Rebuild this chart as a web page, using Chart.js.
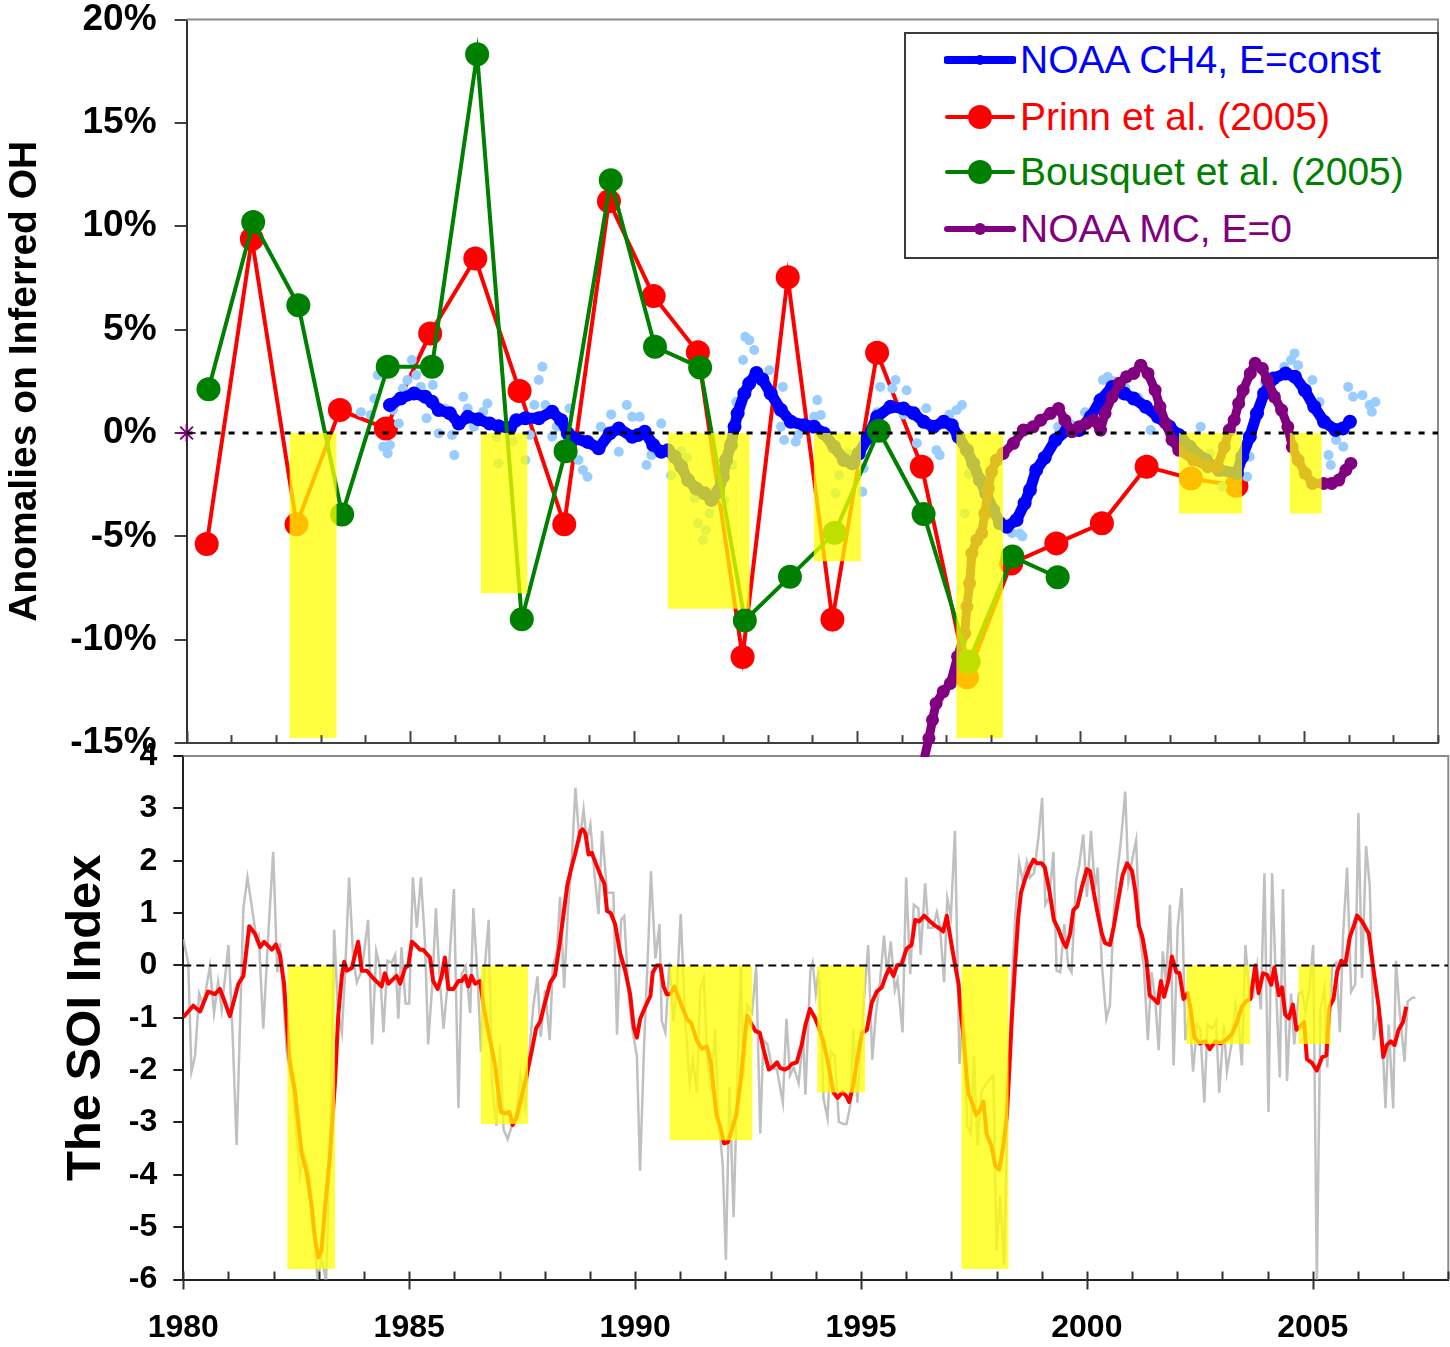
<!DOCTYPE html>
<html>
<head>
<meta charset="utf-8">
<title>Inferred OH anomalies and the SOI index</title>
<script src="https://cdn.jsdelivr.net/npm/chart.js@4/dist/chart.umd.min.js"></script>
<style>
  html, body { margin: 0; padding: 0; background: #fff; }
  #wrap { position: relative; width: 1450px; height: 1347px; overflow: hidden; background: #fff; }
  canvas { position: absolute; left: 0; }
  #oh { top: -17.2px; }
  #soi { top: 723.5px; }
  #legend {
    position: absolute; left: 904px; top: 32px; width: 531px; height: 223px;
    border: 2px solid #3a3a3a; background: #fff;
    font-family: 'Liberation Sans', Arial, sans-serif; font-size: 39px;
  }
  #legend .item { position: absolute; left: 0; height: 40px; display: flex; align-items: center; white-space: nowrap; }
  #legend svg { margin-left: 38px; margin-right: 4px; }
</style>
</head>
<body>
<div id="wrap">
  <canvas id="soi" width="1450" height="624"></canvas>
  <canvas id="oh" width="1450" height="820"></canvas>
  <div id="legend"></div>
</div>
<script>
// ---------------- OH anomaly estimates (percent) ----------------
const prinnYears = [1980.45, 1981.46, 1982.46, 1983.43, 1984.46, 1985.45, 1986.46, 1987.45, 1988.45, 1989.45, 1990.45, 1991.44,
  1992.44, 1993.45, 1994.45, 1995.45, 1996.45, 1997.46, 1998.45, 1999.46, 2000.48, 2001.48, 2002.47, 2003.49];
const prinnOH = [-5.37, 9.38, -4.42, 1.11, 0.22, 4.81, 8.44, 2.03, -4.42, 11.21, 6.62, 3.9,
  -10.84, 7.53, -9.02, 3.88, -1.63, -11.82, -6.31, -5.34, -4.37, -1.63, -2.2, -2.55];

const bousquetYears = [1980.49, 1981.49, 1982.5, 1983.48, 1984.5, 1985.49, 1986.5, 1987.5, 1988.48, 1989.49, 1990.48,
  1991.49, 1992.49, 1993.5, 1994.5, 1995.49, 1996.49, 1997.5, 1998.48, 1999.49];
const bousquetOH = [2.12, 10.21, 6.18, -3.94, 3.2, 3.2, 18.32, -9.01, -0.88, 12.23, 4.17,
  3.17, -9.07, -6.95, -4.83, 0.11, -3.92, -11.06, -5.98, -6.98];

// NOAA CH4, E=const : smoothed curve
const ch4Years = [1984.55, 1984.79, 1985.09, 1985.34, 1985.49, 1985.64, 1985.89, 1986.09, 1986.29, 1986.53, 1986.78, 1986.98,
  1987.23, 1987.38, 1987.58, 1987.88, 1988.18, 1988.38, 1988.53, 1988.67, 1988.97, 1989.22, 1989.47, 1989.67, 1989.97,
  1990.1, 1990.25, 1990.44, 1990.62, 1990.77, 1990.92, 1991.07, 1991.22, 1991.4, 1991.59, 1991.74, 1991.89, 1992.0,
  1992.07, 1992.18, 1992.26, 1992.33, 1992.48, 1992.59, 1992.75, 1992.88, 1993.07, 1993.3, 1993.52, 1993.82, 1994.04,
  1994.26, 1994.49, 1994.71, 1994.89, 1995.04, 1995.23, 1995.45, 1995.75, 1996.04, 1996.27, 1996.49, 1996.71, 1996.94,
  1997.12, 1997.27, 1997.46, 1997.6, 1997.75, 1997.89, 1998.05, 1998.2, 1998.35, 1998.57, 1998.75, 1998.87, 1999.01,
  1999.2, 1999.44, 1999.7, 1999.97, 2000.23, 2000.45, 2000.71, 2000.98, 2001.19, 2001.46, 2001.73, 2001.99, 2002.2,
  2002.45, 2002.8, 2003.1, 2003.5, 2003.62, 2003.79, 2003.95, 2004.11, 2004.32, 2004.59, 2004.8, 2005.02, 2005.23,
  2005.45, 2005.71, 2005.87, 2006.03];
const ch4OH = [1.35, 1.67, 1.91, 1.75, 1.51, 1.11, 0.95, 0.46, 0.78, 0.66, 0.46, 0.33,
  0.22, 0.62, 0.71, 0.71, 1.03, 0.62, -0.02, -0.26, -0.43, -0.74, -0.02, 0.22, -0.18,
  -0.1, 0.06, -0.58, -0.91, -0.83, -1.15, -1.63, -2.28, -2.68, -2.92, -3.24, -2.84, -2.12,
  -1.31, -0.58, 0.3, 0.95, 1.91, 2.4, 2.9, 2.6, 1.91, 1.11, 0.54, 0.38, 0.3,
  -0.02, -0.67, -1.31, -1.47, -0.99, -0.26, 0.78, 1.27, 1.19, 0.95, 0.54, 0.3, 0.54,
  0.38, -0.18, -0.83, -1.47, -2.28, -2.92, -3.73, -4.37, -4.54, -4.21, -3.4, -2.76, -1.79,
  -1.2, -0.34, 0.14, 0.14, 0.78, 1.59, 2.23, 1.91, 1.67, 1.27, 0.78, 0.3, -0.1,
  -0.67, -1.31, -1.79, -1.95, -1.15, -0.18, 0.95, 1.91, 2.64, 2.88, 2.72, 2.07, 1.27,
  0.54, 0.14, 0.22, 0.54];

// NOAA CH4 : individual monthly estimates
const ch4MonthlyYears = [1983.9, 1984.12, 1984.2, 1984.28, 1984.4, 1984.5, 1984.55, 1984.62, 1984.75, 1984.84, 1984.94,
  1985.04, 1985.14, 1985.24, 1985.37, 1985.51, 1985.64, 1985.77, 1985.94, 1985.99, 1986.19, 1986.29, 1986.43, 1986.64,
  1986.73, 1986.93, 1986.98, 1987.3, 1987.58, 1987.68, 1987.78, 1987.88, 1987.96, 1988.03, 1988.18, 1988.28, 1988.57,
  1988.77, 1988.87, 1988.97, 1989.27, 1989.5, 1989.67, 1989.85, 1989.97, 1990.14, 1990.29, 1990.4, 1990.62, 1990.84,
  1991.06, 1991.2, 1991.37, 1991.44, 1991.55, 1991.62, 1991.7, 1992.03, 1992.21, 1992.3, 1992.45, 1992.5, 1992.59,
  1992.7, 1993.04, 1993.3, 1993.34, 1993.37, 1993.63, 1993.68, 1994.04, 1994.11, 1994.19, 1994.52, 1994.6, 1994.8,
  1995.12, 1995.15, 1995.45, 1995.52, 1995.79, 1995.86, 1996.04, 1996.11, 1996.34, 1996.55, 1996.78, 1996.85, 1997.07,
  1997.23, 1997.35, 1997.41, 1997.5, 1997.9, 1998.47, 1998.64, 1998.7, 1999.2, 1999.5, 1999.8, 2000.1, 2000.5,
  2000.61, 2000.75, 2001.0, 2001.3, 2001.57, 2001.8, 2002.0, 2002.3, 2002.69, 2002.9, 2003.17, 2003.3, 2003.73,
  2003.79, 2004.13, 2004.3, 2004.56, 2004.71, 2004.79, 2004.87, 2005.19, 2005.35, 2005.55, 2005.6, 2005.72, 2005.88,
  2005.99, 2006.1, 2006.31, 2006.47, 2006.52, 2006.6];
const ch4MonthlyOH = [1.0, 0.87, 1.67, 2.8, -0.67, -0.99, -0.58, 1.11, 0.46, 2.15, 2.56,
  3.53, 2.8, 2.23, 0.71, 2.32, -0.02, 1.19, -0.1, -1.07, 1.75, 1.19, 0.3, 1.03,
  1.43, -0.18, -1.47, -0.4, -1.31, -0.1, 1.35, 2.56, 3.2, 1.35, -0.18, 0.3, 1.19,
  -1.31, -1.79, -2.12, 0.3, 0.9, -0.91, 1.35, 0.78, 0.78, -1.55, -1.07, 0.46, -2.04,
  -0.9, -1.2, -3.16, -4.37, -5.18, -4.7, -3.89, -3.24, -1.55, 1.5, 3.53, 4.65, 4.49,
  4.01, 3.04, 0.3, 2.23, -0.34, -0.42, -0.1, 0.78, 1.59, 0.87, -2.92, -2.04, -1.0,
  -2.84, -1.71, 1.0, 2.23, 2.15, 2.56, 0.9, 2.07, -0.5, 1.2, -0.83, -1.07, 0.9,
  1.11, 1.35, -3.89, -2.0, -4.0, -4.85, -4.86, -5.0, -1.2, 0.3, 0.4, 1.0, 2.56,
  2.72, 2.5, 2.2, 1.7, 0.14, 0.8, 0.2, -0.5, 0.3, -1.0, -2.6, -1.9, -2.12,
  -1.15, 2.4, 2.0, 3.2, 3.53, 3.85, 3.28, 2.56, 1.5, -1.07, -1.55, -0.34, -0.67,
  2.23, 1.75, 1.83, 1.35, 1.03, 1.5];

// NOAA MC, E=0
const mcYears = [1996.52, 1996.61, 1996.69, 1996.77, 1996.93, 1997.09, 1997.25, 1997.41, 1997.46, 1997.52, 1997.57,
  1997.68, 1997.79, 1997.86, 1997.94, 1998.01, 1998.12, 1998.27, 1998.5, 1998.72, 1998.94, 1999.11, 1999.33, 1999.51,
  1999.65, 1999.81, 1999.97, 2000.13, 2000.29, 2000.45, 2000.55, 2000.71, 2000.87, 2001.03, 2001.19, 2001.35, 2001.51,
  2001.67, 2001.78, 2001.91, 2002.05, 2002.2, 2002.53, 2002.85, 2003.06, 2003.22, 2003.33, 2003.44, 2003.54, 2003.64,
  2003.8, 2003.91, 2004.07, 2004.18, 2004.34, 2004.5, 2004.64, 2004.74, 2004.87, 2005.03, 2005.19, 2005.44, 2005.62,
  2005.78, 2005.94, 2006.05];
const mcOH = [-15.6, -14.77, -13.88, -13.08, -12.51, -12.11, -10.82, -9.69, -8.4, -7.27, -5.82,
  -5.18, -4.85, -3.89, -2.68, -1.88, -1.31, -0.99, -0.5, 0.14, 0.3, 0.62, 0.95, 1.19,
  0.62, 0.06, 0.3, 0.46, 0.62, 0.14, 0.95, 1.75, 2.4, 2.72, 2.88, 3.28, 2.88,
  2.07, 1.27, 0.46, -0.34, -0.83, -1.31, -1.63, -1.63, -0.67, 0.14, 0.62, 1.43, 2.07,
  2.88, 3.37, 3.12, 2.56, 1.75, 1.11, 0.3, -0.67, -1.31, -1.95, -2.44, -2.44, -2.44,
  -2.28, -1.79, -1.47];
const mcStartYear = [1980];
const mcStartOH = [0];

// ---------------- El Niño periods ----------------
const ensoStart = [1982.3, 1986.58, 1990.76, 1994.03, 1997.22, 2002.2, 2004.68];
const ensoEnd   = [1983.36, 1987.63, 1992.6, 1995.09, 1998.27, 2003.62, 2005.4];
const ohBarDepth  = [-14.75, -7.75, -8.5, -6.2, -14.75, -3.9, -3.9];
const soiBarDepth = [-5.8, -3.03, -3.34, -2.43, -5.8, -1.5, -1.5];

// ---------------- Southern Oscillation Index ----------------
const soiYears = [1980.00, 1980.11, 1980.18, 1980.26, 1980.35, 1980.44, 1980.59, 1980.68, 1980.77, 1980.85, 1981.00, 1981.09,
  1981.18, 1981.25, 1981.33, 1981.42, 1981.51, 1981.62, 1981.67, 1981.77, 1981.88, 1981.99, 1982.08, 1982.14, 1982.29,
  1982.43, 1982.58, 1982.67, 1982.77, 1982.88, 1982.97, 1983.06, 1983.16, 1983.25, 1983.34, 1983.42, 1983.51, 1983.58,
  1983.67, 1983.76, 1983.84, 1983.95, 1984.09, 1984.18, 1984.27, 1984.35, 1984.43, 1984.52, 1984.61, 1984.69, 1984.76,
  1984.83, 1984.92, 1985.00, 1985.08, 1985.17, 1985.26, 1985.35, 1985.42, 1985.52, 1985.59, 1985.67, 1985.76, 1985.87,
  1985.99, 1986.09, 1986.16, 1986.25, 1986.35, 1986.42, 1986.51, 1986.59, 1986.66, 1986.76, 1986.83, 1986.93, 1987.01,
  1987.09, 1987.18, 1987.27, 1987.37, 1987.46, 1987.57, 1987.68, 1987.75, 1987.84, 1987.91, 1988.01, 1988.11, 1988.18,
  1988.27, 1988.34, 1988.43, 1988.51, 1988.60, 1988.68, 1988.77, 1988.86, 1988.93, 1989.01, 1989.10, 1989.19, 1989.27,
  1989.38, 1989.52, 1989.60, 1989.69, 1989.76, 1989.86, 1989.95, 1990.04, 1990.11, 1990.20, 1990.30, 1990.35, 1990.45,
  1990.54, 1990.59, 1990.67, 1990.76, 1990.85, 1990.93, 1991.01, 1991.11, 1991.21, 1991.28, 1991.37, 1991.44, 1991.52,
  1991.60, 1991.68, 1991.77, 1991.85, 1991.94, 1992.01, 1992.09, 1992.18, 1992.25, 1992.34, 1992.40, 1992.48, 1992.59,
  1992.68, 1992.77, 1992.84, 1992.93, 1993.03, 1993.14, 1993.27, 1993.35, 1993.43, 1993.51, 1993.62, 1993.72, 1993.77,
  1993.88, 1993.93, 1994.00, 1994.06, 1994.13, 1994.17, 1994.26, 1994.33, 1994.42, 1994.51, 1994.61, 1994.68, 1994.76,
  1994.83, 1994.92, 1994.99, 1995.07, 1995.16, 1995.25, 1995.33, 1995.42, 1995.51, 1995.58, 1995.66, 1995.75, 1995.81,
  1995.92, 1996.00, 1996.09, 1996.17, 1996.27, 1996.32, 1996.42, 1996.49, 1996.59, 1996.68, 1996.75, 1996.84, 1996.91,
  1996.99, 1997.08, 1997.18, 1997.27, 1997.35, 1997.43, 1997.50, 1997.58, 1997.67, 1997.78, 1997.86, 1997.93, 1998.00,
  1998.08, 1998.17, 1998.24, 1998.34, 1998.41, 1998.50, 1998.58, 1998.67, 1998.74, 1998.83, 1998.93, 1999.01, 1999.08,
  1999.17, 1999.26, 1999.33, 1999.41, 1999.50, 1999.59, 1999.66, 1999.76, 1999.83, 1999.92, 2000.00, 2000.09, 2000.18,
  2000.24, 2000.33, 2000.43, 2000.51, 2000.59, 2000.66, 2000.75, 2000.85, 2000.92, 2001.01, 2001.09, 2001.17, 2001.26,
  2001.35, 2001.43, 2001.51, 2001.59, 2001.68, 2001.75, 2001.84, 2001.92, 2002.01, 2002.10, 2002.18, 2002.27, 2002.35,
  2002.44, 2002.51, 2002.60, 2002.67, 2002.77, 2002.86, 2002.93, 2003.03, 2003.10, 2003.20, 2003.29, 2003.36, 2003.43,
  2003.51, 2003.60, 2003.68, 2003.77, 2003.85, 2003.93, 2004.02, 2004.10, 2004.19, 2004.27, 2004.34, 2004.43, 2004.52,
  2004.59, 2004.69, 2004.76, 2004.84, 2004.92, 2005.01, 2005.09, 2005.17, 2005.26, 2005.32, 2005.43, 2005.52, 2005.60,
  2005.67, 2005.76, 2005.85, 2005.94, 2006.01, 2006.09, 2006.18, 2006.26, 2006.35, 2006.44, 2006.52, 2006.61, 2006.68,
  2006.78, 2006.84, 2006.92, 2007.03, 2007.10, 2007.20, 2007.27];
const soiMonthly = [0.50, 0.05, -2.03, -1.73, -0.54, -0.76, -0.02, -0.91, -0.32, -0.84, 0.39, -1.28,
  -3.43, -1.28, 1.09, 1.68, 1.16, 0.50, 0.57, -1.21, 0.57, 2.17, -0.13, 0.42, -1.65,
  -2.40, -4.03, -3.58, -3.88, -4.84, -6.03, -5.59, -6.03, -3.36, 0.68, -0.84, -1.28, -0.17,
  1.68, 0.13, -0.32, -0.10, 0.87, -1.51, 0.27, -0.02, -1.28, 0.09, 0.05, 0.20, -1.02,
  0.35, -0.73, -0.73, 1.68, 0.72, 1.68, 0.42, -1.51, -0.24, 1.09, -0.17, -1.21, -0.17,
  1.46, -2.73, -0.17, -0.02, -0.91, 1.09, -0.17, -1.65, -0.17, 0.87, -2.25, -3.06, -1.51,
  -3.14, -3.32, -3.06, -2.84, -2.10, -2.69, -1.43, -0.76, -0.21, -1.36, -0.47, -1.43, -0.02,
  0.27, 1.31, -0.43, 1.02, 2.05, 3.39, 2.35, 2.98, 2.35, 2.69, 1.76, 0.98, 2.57,
  1.39, 1.39, -1.32, 0.87, 0.94, -0.62, -1.28, -1.73, -3.92, -1.51, 0.57, 1.80, 0.13,
  0.79, -1.06, -1.28, 0.05, -1.06, -0.39, 0.98, -1.06, -2.25, -1.80, -2.43, -0.47, -0.24,
  -1.80, -2.40, -1.21, -2.92, -3.81, -5.62, -2.32, -4.81, -2.62, -0.02, -2.17, -0.76, -0.91,
  -0.02, -3.21, -1.43, -1.51, -1.95, -1.99, -2.62, -1.02, -2.10, -1.95, -2.25, -1.36, -2.47,
  -0.10, 0.05, -0.54, -0.10, -1.43, -2.54, -2.92, -1.65, -1.73, -2.99, -3.03, -3.03, -2.69,
  -1.21, -2.62, -1.65, -0.62, 0.39, -1.80, -0.91, -0.32, 0.57, -0.17, 0.46, -0.47, -0.28,
  -1.28, 1.68, -0.17, 1.16, 1.09, 0.20, 1.57, 0.72, 0.72, 1.02, 0.72, -0.32, 1.28,
  0.94, 2.57, -1.88, -0.91, -3.06, -3.21, -1.73, -3.43, -2.40, -2.25, -2.17, -2.10, -5.44,
  -4.40, -5.73, -2.84, -0.32, 0.87, 1.98, 1.61, 1.98, 1.68, 1.76, 2.46, 3.20, 1.16,
  1.31, 2.17, -0.10, -0.13, 0.79, -0.02, -0.13, 1.61, 1.91, 2.50, 1.31, 2.57, 1.46,
  1.87, 0.05, -1.02, -0.76, 0.94, 1.68, 2.35, 3.32, 1.61, 2.05, 2.39, 0.57, -0.02,
  -1.43, -0.13, -0.62, -1.62, 0.27, -0.32, 1.16, -1.91, 0.72, 1.48, -1.43, -0.91, -2.03,
  -1.13, -1.21, -2.62, -1.13, -1.21, -1.06, -2.43, -1.13, -2.03, -1.51, -0.76, -1.13, -1.91,
  0.39, -0.62, -0.62, -0.02, -0.84, 1.76, -2.80, 1.76, -0.47, -2.14, 1.46, -2.21, -0.54,
  -1.51, -0.54, -0.50, -0.88, -0.47, 0.39, -6.03, -0.84, -0.43, -1.95, -0.02, 0.05, -1.28,
  0.57, 1.87, -0.50, -0.36, 2.91, -0.24, 2.28, 1.54, -1.43, -0.91, -1.02, -2.73, -1.13,
  -2.73, 0.09, -0.84, -1.84, -0.69, -0.62, -0.62];

// SOI running mean
const soiSmoothYears = [1980.00, 1980.22, 1980.37, 1980.55, 1980.70, 1980.81, 1980.92, 1981.03, 1981.22, 1981.33, 1981.46,
  1981.59, 1981.70, 1981.79, 1981.96, 1982.05, 1982.14, 1982.23, 1982.29, 1982.35, 1982.47, 1982.62, 1982.73, 1982.84,
  1982.91, 1982.99, 1983.06, 1983.14, 1983.25, 1983.36, 1983.43, 1983.51, 1983.56, 1983.62, 1983.73, 1983.87, 1983.95,
  1984.06, 1984.21, 1984.39, 1984.46, 1984.54, 1984.72, 1984.80, 1984.91, 1984.98, 1985.06, 1985.13, 1985.24, 1985.31,
  1985.46, 1985.53, 1985.63, 1985.72, 1985.79, 1985.87, 1985.98, 1986.09, 1986.16, 1986.24, 1986.31, 1986.38, 1986.46,
  1986.57, 1986.65, 1986.76, 1986.90, 1987.03, 1987.12, 1987.22, 1987.29, 1987.38, 1987.49, 1987.60, 1987.72, 1987.81,
  1987.90, 1988.01, 1988.12, 1988.23, 1988.33, 1988.42, 1988.50, 1988.60, 1988.67, 1988.79, 1988.84, 1988.90, 1988.97,
  1989.04, 1989.14, 1989.24, 1989.32, 1989.38, 1989.46, 1989.56, 1989.67, 1989.78, 1989.89, 1989.97, 1990.04, 1990.11,
  1990.22, 1990.34, 1990.39, 1990.48, 1990.56, 1990.63, 1990.70, 1990.78, 1990.87, 1991.00, 1991.15, 1991.24, 1991.37,
  1991.48, 1991.59, 1991.68, 1991.80, 1991.88, 1991.97, 1992.05, 1992.14, 1992.24, 1992.34, 1992.42, 1992.48, 1992.59,
  1992.66, 1992.76, 1992.84, 1992.96, 1993.07, 1993.14, 1993.21, 1993.32, 1993.40, 1993.47, 1993.58, 1993.69, 1993.77,
  1993.87, 1993.98, 1994.06, 1994.17, 1994.28, 1994.39, 1994.48, 1994.59, 1994.68, 1994.74, 1994.83, 1994.94, 1995.02,
  1995.13, 1995.24, 1995.35, 1995.46, 1995.55, 1995.63, 1995.72, 1995.80, 1995.90, 1996.01, 1996.12, 1996.20, 1996.29,
  1996.40, 1996.53, 1996.64, 1996.75, 1996.82, 1996.90, 1996.99, 1997.08, 1997.16, 1997.21, 1997.27, 1997.34, 1997.38,
  1997.45, 1997.55, 1997.64, 1997.71, 1997.78, 1997.89, 1997.97, 1998.06, 1998.15, 1998.23, 1998.28, 1998.34, 1998.41,
  1998.48, 1998.54, 1998.63, 1998.73, 1998.82, 1998.90, 1999.00, 1999.07, 1999.17, 1999.27, 1999.37, 1999.47, 1999.54,
  1999.63, 1999.70, 1999.79, 1999.89, 2000.00, 2000.07, 2000.16, 2000.24, 2000.33, 2000.40, 2000.51, 2000.60, 2000.70,
  2000.79, 2000.89, 2001.00, 2001.07, 2001.15, 2001.23, 2001.32, 2001.39, 2001.48, 2001.57, 2001.64, 2001.71, 2001.81,
  2001.88, 2001.98, 2002.05, 2002.14, 2002.23, 2002.30, 2002.38, 2002.50, 2002.62, 2002.72, 2002.84, 2002.95, 2003.09,
  2003.21, 2003.32, 2003.43, 2003.53, 2003.62, 2003.73, 2003.80, 2003.90, 2003.99, 2004.08, 2004.15, 2004.25, 2004.32,
  2004.39, 2004.47, 2004.56, 2004.64, 2004.73, 2004.81, 2004.87, 2004.98, 2005.09, 2005.21, 2005.30, 2005.37, 2005.46,
  2005.54, 2005.63, 2005.72, 2005.82, 2005.91, 2005.98, 2006.09, 2006.24, 2006.35, 2006.46, 2006.56, 2006.64, 2006.73,
  2006.81, 2006.90, 2007.00, 2007.07];
const soiSmooth = [-0.99, -0.77, -0.88, -0.50, -0.55, -0.45, -0.70, -0.97, -0.35, -0.20, 0.75,
  0.60, 0.35, 0.45, 0.30, 0.40, 0.20, -0.35, -1.10, -1.80, -2.40, -3.60, -3.95, -4.60,
  -5.20, -5.58, -5.45, -4.60, -3.60, -2.20, -0.95, -0.20, 0.07, -0.10, -0.05, 0.45, -0.10,
  -0.10, -0.25, -0.40, -0.15, -0.35, -0.20, -0.35, -0.05, 0.00, 0.45, 0.40, 0.30, 0.30,
  0.15, -0.30, -0.45, -0.20, 0.15, -0.45, -0.45, -0.30, -0.30, -0.20, -0.40, -0.20, -0.35,
  -0.30, -0.80, -1.30, -1.90, -2.80, -2.83, -2.80, -3.05, -2.90, -2.50, -2.10, -1.60, -1.20,
  -1.07, -0.70, -0.33, -0.18, 0.41, 1.00, 1.53, 1.90, 2.12, 2.56, 2.60, 2.52, 2.12,
  2.15, 1.93, 1.71, 1.56, 1.04, 1.00, 0.78, 0.23, -0.10, -0.55, -1.18, -1.38, -1.03,
  -0.80, -0.58, -0.14, 0.00, 0.00, -0.40, -0.55, -0.55, -0.40, -0.70, -1.03, -1.10, -1.44,
  -1.59, -1.55, -1.88, -2.85, -3.07, -3.40, -3.38, -3.15, -2.85, -2.18, -1.44, -0.96, -1.14,
  -1.25, -1.29, -1.59, -1.99, -1.92, -1.85, -1.96, -1.99, -1.95, -1.88, -1.85, -1.51, -1.14,
  -0.83, -1.00, -1.17, -1.46, -1.90, -2.42, -2.53, -2.42, -2.50, -2.61, -2.28, -1.68, -1.30,
  -1.23, -0.71, -0.50, -0.42, -0.20, -0.05, -0.20, 0.00, 0.03, 0.32, 0.39, 0.87, 0.84,
  0.95, 0.84, 0.76, 0.70, 0.65, 0.95, 0.47, 0.02, -0.35, -0.90, -1.38, -2.13, -2.45,
  -2.60, -2.86, -2.75, -2.60, -3.22, -3.45, -3.82, -3.90, -3.45, -2.86, -2.04, -1.00, 0.00,
  0.91, 1.38, 1.64, 1.87, 2.02, 1.95, 1.95, 1.87, 1.43, 0.87, 0.69, 0.46, 0.35,
  0.61, 1.06, 1.13, 1.50, 1.84, 1.80, 1.36, 0.99, 0.61, 0.43, 0.39, 0.76, 1.28,
  1.72, 1.95, 1.80, 1.43, 0.76, 0.54, 0.09, -0.57, -0.64, -0.72, -0.30, -0.60, -0.27,
  0.17, -0.13, -0.15, -0.64, -0.53, -0.86, -1.38, -1.49, -1.45, -1.60, -1.45, -1.49, -1.42,
  -1.31, -1.09, -0.79, -0.68, -0.64, 0.00, -0.53, -0.15, -0.18, -0.37, -0.04, -0.57, -0.42,
  -0.94, -1.01, -0.75, -1.23, -1.16, -1.08, -1.79, -1.86, -2.01, -1.75, -1.72, -0.79, -0.64,
  -0.12, 0.09, 0.02, 0.54, 0.76, 0.95, 0.84, 0.61, -0.12, -0.79, -1.75, -1.52, -1.45,
  -1.52, -1.23, -1.08, -0.79];

// axis extents
const yearRange = [1980, 2008];
const zeroLine = [0, 0];

// ---------------- helpers ----------------
const zip = (xs, ys) => xs.map((x, i) => ({ x, y: ys[i] }));
const FONT = "'Liberation Sans', Arial, Helvetica, sans-serif";
Chart.defaults.font.family = FONT;
Chart.defaults.color = '#000';

const YELLOW = 'rgba(255,255,0,0.75)';
function ensoBars(depths) {
  return ensoStart.map((s, i) => ({
    label: 'El Niño ' + i,
    data: [{ x: s, y: depths[i] }, { x: ensoEnd[i], y: depths[i] }],
    fill: { value: 0 },
    backgroundColor: YELLOW,
    borderColor: 'rgba(0,0,0,0)',
    borderWidth: 0,
    pointRadius: 0,
    order: 1
  }));
}
function zeroDashed(width, dash) {
  return {
    label: 'zero',
    data: zip(yearRange, zeroLine),
    borderColor: '#000',
    borderWidth: width,
    borderDash: dash,
    pointRadius: 0,
    order: 0
  };
}

// draws the year tick marks on the inside of the time axis
const innerTicks = {
  id: 'innerTicks',
  afterDatasetsDraw(chart, args, opts) {
    const xs = chart.scales.x, ctx = chart.ctx, y0 = chart.chartArea.bottom;
    ctx.save();
    ctx.strokeStyle = opts.color;
    ctx.lineWidth = opts.width;
    xs.ticks.forEach(t => {
      const px = Math.round(xs.getPixelForValue(t.value)) + 0.5;
      const major = t.value % 5 === 0;
      ctx.beginPath();
      ctx.moveTo(px, y0 - (major ? opts.majorUp : opts.minorUp));
      ctx.lineTo(px, y0 + (major ? opts.majorDown : 0));
      ctx.stroke();
    });
    ctx.restore();
  }
};
// grey frame on the top and right sides of the plot area
const frame = {
  id: 'frame',
  beforeDatasetsDraw(chart, args, opts) {
    const { left, top, right, bottom } = chart.chartArea, ctx = chart.ctx;
    ctx.save();
    ctx.strokeStyle = opts.color;
    ctx.lineWidth = opts.width;
    ctx.beginPath();
    ctx.moveTo(left, top);
    ctx.lineTo(right, top);
    ctx.lineTo(right, bottom);
    ctx.stroke();
    ctx.restore();
  }
};

// ---------------- upper panel: OH anomalies ----------------
// drawing order (top to bottom): zero line, El Niño shading, Bousquet, NOAA MC, NOAA CH4, monthly CH4, Prinn
new Chart(document.getElementById('oh'), {
  type: 'line',
  data: {
    datasets: [
      zeroDashed(3, [6, 8]),
      ...ensoBars(ohBarDepth),
      { label: 'NOAA MC start', data: zip(mcStartYear, mcStartOH), showLine: false, pointStyle: 'star',
        pointRadius: 9, borderColor: '#800080', backgroundColor: '#800080', borderWidth: 2, clip: false, order: 2 },
      { label: 'Bousquet et al. (2005)', data: zip(bousquetYears, bousquetOH), borderColor: '#008000',
        backgroundColor: '#008000', borderWidth: 4, pointRadius: 12, pointBorderWidth: 0, order: 3 },
      { label: 'NOAA MC, E=0', data: zip(mcYears, mcOH), borderColor: '#800080', backgroundColor: '#800080',
        borderWidth: 9, pointRadius: 6.5, pointBorderWidth: 0, borderJoinStyle: 'round', borderCapStyle: 'round',
        clip: { left: 0, top: 0, right: 0, bottom: 14 }, order: 4 },
      { label: 'NOAA CH4, E=const', data: zip(ch4Years, ch4OH), borderColor: '#0000ff', backgroundColor: '#0000ff',
        borderWidth: 11, pointRadius: 7, pointBorderWidth: 0, borderJoinStyle: 'round', borderCapStyle: 'round', order: 5 },
      { label: 'NOAA CH4 monthly', data: zip(ch4MonthlyYears, ch4MonthlyOH), showLine: false,
        backgroundColor: '#99ccff', borderWidth: 0, pointRadius: 5, order: 6 },
      { label: 'Prinn et al. (2005)', data: zip(prinnYears, prinnOH), borderColor: '#ff0000',
        backgroundColor: '#ff0000', borderWidth: 4, pointRadius: 12, pointBorderWidth: 0, order: 7 }
    ]
  },
  options: {
    responsive: false,
    animation: false,
    events: [],
    layout: { padding: { left: 0, right: 7, top: 0, bottom: 59.9 } },
    plugins: {
      legend: { display: false },
      tooltip: { enabled: false },
      innerTicks: { color: '#404040', width: 2, minorUp: 8, majorUp: 12, majorDown: 0 },
      frame: { color: '#8a8a8a', width: 2 }
    },
    scales: {
      x: {
        type: 'linear', min: yearRange[0], max: yearRange[1],
        ticks: { display: false, stepSize: 1, autoSkip: false },
        grid: { display: false, drawTicks: false },
        border: { display: true, color: '#404040', width: 2 },
        afterFit: s => { s.height = 0; }
      },
      y: {
        min: -15, max: 20,
        ticks: { stepSize: 5, padding: 18, callback: v => v + '%', font: { size: 37, weight: 'bold', lineHeight: 1 }, color: '#000' },
        grid: { display: true, drawOnChartArea: false, drawTicks: true, tickLength: 12, color: '#404040', lineWidth: 2 },
        border: { display: true, color: '#303030', width: 2 },
        title: { display: true, text: 'Anomalies on Inferred OH', color: '#000',
          font: { size: 39, weight: 'bold', lineHeight: 1.2 }, padding: { top: 2, bottom: 0 } },
        afterFit: s => { s.width = 186.6; }
      }
    }
  },
  plugins: [innerTicks, frame]
});

// ---------------- lower panel: SOI ----------------
new Chart(document.getElementById('soi'), {
  type: 'line',
  data: {
    datasets: [
      zeroDashed(2, [8, 5]),
      ...ensoBars(soiBarDepth),
      { label: 'SOI smoothed', data: zip(soiSmoothYears, soiSmooth), borderColor: '#ff0000', borderWidth: 4,
        pointRadius: 0, borderJoinStyle: 'round', order: 2 },
      { label: 'SOI monthly', data: zip(soiYears, soiMonthly), borderColor: '#c0c0c0', borderWidth: 2.5,
        pointRadius: 0, order: 3 }
    ]
  },
  options: {
    responsive: false,
    animation: false,
    events: [],
    layout: { padding: { left: 0, right: 1.7, top: 0, bottom: 0 } },
    plugins: {
      legend: { display: false },
      tooltip: { enabled: false },
      innerTicks: { color: '#303030', width: 2, minorUp: 8, majorUp: 8, majorDown: 10 },
      frame: { color: '#8a8a8a', width: 2 }
    },
    scales: {
      x: {
        type: 'linear', min: yearRange[0], max: yearRange[1],
        ticks: { stepSize: 1, autoSkip: false, maxRotation: 0, padding: 0,
          callback: v => (v % 5 === 0 && v < yearRange[1]) ? String(v) : '',
          font: { size: 32, weight: 'bold', lineHeight: 3.03 }, color: '#000' },
        grid: { display: false, drawTicks: false },
        border: { display: true, color: '#202020', width: 2 },
        afterFit: s => { s.height = 68.5; }
      },
      y: {
        min: -6, max: 4,
        ticks: { stepSize: 1, padding: 16, font: { size: 32, weight: 'bold', lineHeight: 1 }, color: '#000' },
        grid: { display: true, drawOnChartArea: false, drawTicks: true, tickLength: 10, color: '#202020', lineWidth: 2 },
        border: { display: true, color: '#202020', width: 2 },
        title: { display: true, text: 'The SOI Index', color: '#000',
          font: { size: 49, weight: 'bold', lineHeight: 1.2 }, padding: { top: 57, bottom: 0 } },
        afterFit: s => { s.width = 183.3; }
      }
    }
  },
  plugins: [innerTicks, frame]
});

// ---------------- legend ----------------
const legendItems = [
  { text: 'NOAA CH4, E=const', color: '#0000ff', line: 8, dot: 5, y: 6 },
  { text: 'Prinn et al. (2005)', color: '#ff0000', line: 4, dot: 12, y: 63 },
  { text: 'Bousquet et al. (2005)', color: '#008000', line: 4, dot: 12, y: 118 },
  { text: 'NOAA MC, E=0', color: '#800080', line: 6, dot: 6, y: 175 }
];
const legend = document.getElementById('legend');
legendItems.forEach(it => {
  const row = document.createElement('div');
  row.className = 'item';
  row.style.top = it.y + 'px';
  row.innerHTML =
    `<svg width="72" height="30" viewBox="0 0 72 30">` +
    `<line x1="3" y1="15" x2="69" y2="15" stroke="${it.color}" stroke-width="${it.line}" stroke-linecap="round"/>` +
    `<circle cx="36" cy="15" r="${it.dot}" fill="${it.color}"/></svg>` +
    `<span style="color:${it.color}">${it.text}</span>`;
  legend.appendChild(row);
});
</script>
</body>
</html>
